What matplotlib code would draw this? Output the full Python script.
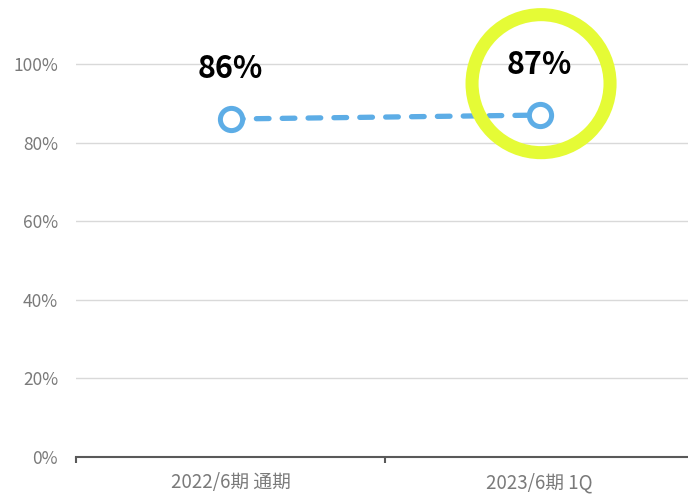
import matplotlib
matplotlib.use("Agg")
from matplotlib import pyplot as plt
from matplotlib.patches import Ellipse
from matplotlib.ticker import PercentFormatter

plt.rcParams['font.family'] = ['Noto Sans CJK JP', 'DejaVu Sans']

categories = ["2022/6期 通期", "2023/6期 1Q"]
values = [0.86, 0.87]
value_labels = ["86%", "87%"]
y_ticks = [0, 0.2, 0.4, 0.6, 0.8, 1.0]

line_color = "#5dade6"
tick_color = "#7a7a7a"

fig = plt.figure(figsize=(6.88, 4.94), dpi=100)
ax = fig.add_axes([76 / 688, 37 / 494, 618 / 688, 457 / 494])

x = list(range(len(categories)))
ax.plot(x, values, color=line_color, lw=3.8, linestyle=(0, (2.4, 2.5)),
        dash_capstyle='round', marker='o', markersize=16,
        markerfacecolor='white', markeredgecolor=line_color, markeredgewidth=3.6,
        zorder=3)

# value labels above the points
for xi, v, lab in zip(x, values, value_labels):
    ax.annotate(lab, (xi, v), xytext=(0, 36), textcoords='offset points',
                ha='center', va='center', fontsize=22, fontweight='bold',
                color='black')

# highlight ring around the latest value
ring = Ellipse((1.005, values[1] + 0.08), 138 / 309, 138 / 393, fill=False,
               edgecolor="#e5fb36", linewidth=9.4, clip_on=False, zorder=4)
ax.add_patch(ring)

ax.set_xlim(-0.5, 1.5)
ax.set_ylim(0, 457 / 393)
ax.set_xticks(x)
ax.set_xticklabels(categories)
ax.set_xticks([-0.5, 0.5, 1.5], minor=True)
ax.set_yticks(y_ticks)
ax.yaxis.set_major_formatter(PercentFormatter(1.0, decimals=0))

ax.grid(axis='y', color='#d9d9d9', linewidth=1)
ax.set_axisbelow(True)
for side in ['top', 'right', 'left']:
    ax.spines[side].set_visible(False)
ax.spines['bottom'].set_color('#595959')
ax.spines['bottom'].set_linewidth(1.5)

ax.tick_params(axis='y', length=0, pad=13, labelsize=12.5, labelcolor=tick_color)
ax.tick_params(axis='x', which='major', length=0, pad=11, labelsize=13.5,
               labelcolor=tick_color)
ax.tick_params(axis='x', which='minor', length=4, width=1.5, color='#595959',
               direction='out')

fig.savefig("out.png", dpi=100)
